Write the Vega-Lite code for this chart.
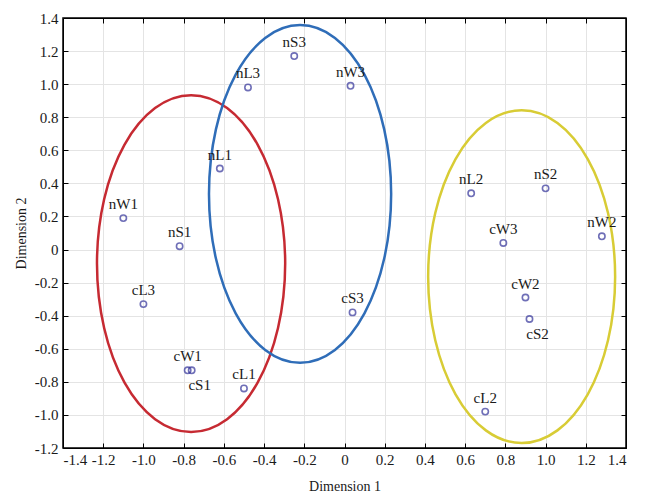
{
  "$schema": "https://vega.github.io/schema/vega-lite/v6.json",
  "width": 563,
  "height": 430,
  "autosize": "none",
  "padding": {"left": 63, "top": 18, "right": 19, "bottom": 53},
  "background": "white",
  "config": {
    "font": "Liberation Serif",
    "view": {"stroke": "black", "strokeWidth": 1.5},
    "axis": {
      "labelFont": "Liberation Serif",
      "titleFont": "Liberation Serif",
      "labelFontSize": 15,
      "titleFontSize": 14,
      "titleFontWeight": "normal",
      "labelColor": "#1a1a1a",
      "titleColor": "#1a1a1a",
      "gridColor": "#e4e4e4",
      "gridWidth": 1,
      "domainColor": "black",
      "tickColor": "black",
      "tickSize": -5
    }
  },
  "datasets": {
    "pts": [
      {"name": "nS3", "d1": -0.25, "d2": 1.17, "pos": "above"},
      {"name": "nL3", "d1": -0.48, "d2": 0.98, "pos": "above"},
      {"name": "nW3", "d1": 0.03, "d2": 0.99, "pos": "above"},
      {"name": "nL1", "d1": -0.62, "d2": 0.49, "pos": "above"},
      {"name": "nW1", "d1": -1.1, "d2": 0.19, "pos": "above"},
      {"name": "nS1", "d1": -0.82, "d2": 0.02, "pos": "above"},
      {"name": "cL3", "d1": -1.0, "d2": -0.33, "pos": "above"},
      {"name": "cW1", "d1": -0.78, "d2": -0.73, "pos": "above"},
      {"name": "cS1", "d1": -0.76, "d2": -0.73, "pos": "below"},
      {"name": "cL1", "d1": -0.5, "d2": -0.84, "pos": "above"},
      {"name": "cS3", "d1": 0.04, "d2": -0.38, "pos": "above"},
      {"name": "nL2", "d1": 0.63, "d2": 0.34, "pos": "above"},
      {"name": "nS2", "d1": 1.0, "d2": 0.37, "pos": "above"},
      {"name": "cW3", "d1": 0.79, "d2": 0.04, "pos": "above"},
      {"name": "nW2", "d1": 1.28, "d2": 0.08, "pos": "above"},
      {"name": "cW2", "d1": 0.9, "d2": -0.29, "pos": "above"},
      {"name": "cS2", "d1": 0.92, "d2": -0.42, "pos": "below"},
      {"name": "cL2", "d1": 0.7, "d2": -0.98, "pos": "above"}
    ],
    "ell": [
      {"g": "red", "i": 0, "d1": -0.295, "d2": -0.085},
      {"g": "red", "i": 1, "d1": -0.3306, "d2": 0.3046},
      {"g": "red", "i": 2, "d1": -0.4321, "d2": 0.6348},
      {"g": "red", "i": 3, "d1": -0.5839, "d2": 0.8555},
      {"g": "red", "i": 4, "d1": -0.763, "d2": 0.933},
      {"g": "red", "i": 5, "d1": -0.9421, "d2": 0.8555},
      {"g": "red", "i": 6, "d1": -1.0939, "d2": 0.6348},
      {"g": "red", "i": 7, "d1": -1.1954, "d2": 0.3046},
      {"g": "red", "i": 8, "d1": -1.231, "d2": -0.085},
      {"g": "red", "i": 9, "d1": -1.1954, "d2": -0.4746},
      {"g": "red", "i": 10, "d1": -1.0939, "d2": -0.8048},
      {"g": "red", "i": 11, "d1": -0.9421, "d2": -1.0255},
      {"g": "red", "i": 12, "d1": -0.763, "d2": -1.103},
      {"g": "red", "i": 13, "d1": -0.5839, "d2": -1.0255},
      {"g": "red", "i": 14, "d1": -0.4321, "d2": -0.8048},
      {"g": "red", "i": 15, "d1": -0.3306, "d2": -0.4746},
      {"g": "blue", "i": 0, "d1": 0.232, "d2": 0.336},
      {"g": "blue", "i": 1, "d1": 0.1975, "d2": 0.7267},
      {"g": "blue", "i": 2, "d1": 0.0993, "d2": 1.058},
      {"g": "blue", "i": 3, "d1": -0.0476, "d2": 1.2793},
      {"g": "blue", "i": 4, "d1": -0.221, "d2": 1.357},
      {"g": "blue", "i": 5, "d1": -0.3944, "d2": 1.2793},
      {"g": "blue", "i": 6, "d1": -0.5413, "d2": 1.058},
      {"g": "blue", "i": 7, "d1": -0.6395, "d2": 0.7267},
      {"g": "blue", "i": 8, "d1": -0.674, "d2": 0.336},
      {"g": "blue", "i": 9, "d1": -0.6395, "d2": -0.0547},
      {"g": "blue", "i": 10, "d1": -0.5413, "d2": -0.386},
      {"g": "blue", "i": 11, "d1": -0.3944, "d2": -0.6073},
      {"g": "blue", "i": 12, "d1": -0.221, "d2": -0.685},
      {"g": "blue", "i": 13, "d1": -0.0476, "d2": -0.6073},
      {"g": "blue", "i": 14, "d1": 0.0993, "d2": -0.386},
      {"g": "blue", "i": 15, "d1": 0.1975, "d2": -0.0547},
      {"g": "yellow", "i": 0, "d1": 1.346, "d2": -0.164},
      {"g": "yellow", "i": 1, "d1": 1.3106, "d2": 0.221},
      {"g": "yellow", "i": 2, "d1": 1.2098, "d2": 0.5473},
      {"g": "yellow", "i": 3, "d1": 1.059, "d2": 0.7654},
      {"g": "yellow", "i": 4, "d1": 0.881, "d2": 0.842},
      {"g": "yellow", "i": 5, "d1": 0.703, "d2": 0.7654},
      {"g": "yellow", "i": 6, "d1": 0.5522, "d2": 0.5473},
      {"g": "yellow", "i": 7, "d1": 0.4514, "d2": 0.221},
      {"g": "yellow", "i": 8, "d1": 0.416, "d2": -0.164},
      {"g": "yellow", "i": 9, "d1": 0.4514, "d2": -0.549},
      {"g": "yellow", "i": 10, "d1": 0.5522, "d2": -0.8753},
      {"g": "yellow", "i": 11, "d1": 0.703, "d2": -1.0934},
      {"g": "yellow", "i": 12, "d1": 0.881, "d2": -1.17},
      {"g": "yellow", "i": 13, "d1": 1.059, "d2": -1.0934},
      {"g": "yellow", "i": 14, "d1": 1.2098, "d2": -0.8753},
      {"g": "yellow", "i": 15, "d1": 1.3106, "d2": -0.549}
    ]
  },
  "layer": [
    {
      "data": {"name": "ell"},
      "mark": {"type": "line", "interpolate": "cardinal-closed", "strokeWidth": 2.5, "clip": true},
      "encoding": {
        "x": {"field": "d1", "type": "quantitative", "scale": {"domain": [-1.4, 1.4], "nice": false, "zero": false},
          "axis": {"orient": "bottom", "title": "Dimension 1", "values": [-1.4,-1.2,-1.0,-0.8,-0.6,-0.4,-0.2,0,0.2,0.4,0.6,0.8,1.0,1.2,1.4], "labelExpr": "datum.value == 0 ? '0' : replace(format(datum.value, '.1f'), '\u2212', '-')", "labelPadding": 9, "titlePadding": 12}},
        "y": {"field": "d2", "type": "quantitative", "scale": {"domain": [-1.2, 1.4], "nice": false, "zero": false},
          "axis": {"orient": "left", "title": "Dimension 2", "values": [-1.2,-1.0,-0.8,-0.6,-0.4,-0.2,0,0.2,0.4,0.6,0.8,1.0,1.2,1.4], "labelExpr": "datum.value == 0 ? '0' : replace(format(datum.value, '.1f'), '\u2212', '-')", "labelPadding": 10, "titlePadding": 6}},
        "order": {"field": "i", "type": "quantitative"},
        "detail": {"field": "g"},
        "color": {"field": "g", "type": "nominal", "scale": {"domain": ["red", "blue", "yellow"], "range": ["#c62a32", "#2f6db8", "#d8cc35"]}, "legend": null}
      }
    },
    {
      "data": {"name": "pts"},
      "mark": {"type": "point", "shape": "circle", "filled": false, "size": 40, "strokeWidth": 1.6, "color": "#33339a"},
      "encoding": {
        "x": {"field": "d1", "type": "quantitative", "axis": {"orient": "top", "title": null, "labels": false, "grid": false, "values": [-1.4,-1.2,-1.0,-0.8,-0.6,-0.4,-0.2,0,0.2,0.4,0.6,0.8,1.0,1.2,1.4]}},
        "y": {"field": "d2", "type": "quantitative", "axis": {"orient": "right", "title": null, "labels": false, "grid": false, "values": [-1.2,-1.0,-0.8,-0.6,-0.4,-0.2,0,0.2,0.4,0.6,0.8,1.0,1.2,1.4]}}
      }
    },
    {
      "data": {"name": "pts"},
      "transform": [{"filter": "datum.pos == 'above'"}],
      "mark": {"type": "text", "dy": -14, "fontSize": 15, "font": "Liberation Serif", "color": "#1a1a1a", "baseline": "middle"},
      "encoding": {
        "x": {"field": "d1", "type": "quantitative", "axis": null},
        "y": {"field": "d2", "type": "quantitative", "axis": null},
        "text": {"field": "name"}
      }
    },
    {
      "data": {"name": "pts"},
      "transform": [{"filter": "datum.pos == 'below'"}],
      "mark": {"type": "text", "dy": 15, "dx": 8, "fontSize": 15, "font": "Liberation Serif", "color": "#1a1a1a", "baseline": "middle"},
      "encoding": {
        "x": {"field": "d1", "type": "quantitative", "axis": null},
        "y": {"field": "d2", "type": "quantitative", "axis": null},
        "text": {"field": "name"}
      }
    }
  ],
  "resolve": {"axis": {"x": "independent", "y": "independent"}}
}
